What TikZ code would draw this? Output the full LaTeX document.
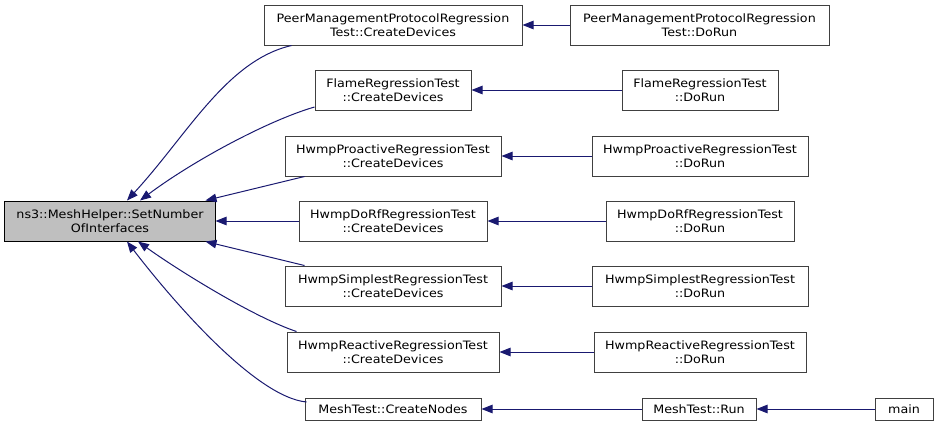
\documentclass[tikz,border=0pt]{standalone}
\usepackage{fontspec}
\setmainfont{DejaVu Sans}[FakeStretch=1.1]
\usetikzlibrary{arrows.meta,calc}
\definecolor{edgeblue}{HTML}{191970}
\definecolor{boxgray}{HTML}{BFBFBF}
\definecolor{boxline}{HTML}{404040}
\tikzset{
  fn/.style={draw=boxline,line width=1bp,fill=white,inner sep=0pt,align=center,
    font=\fontsize{11.6}{14.5}\selectfont},
  mainfn/.style={fn,fill=boxgray,draw=black},
  edge/.style={draw=edgeblue,line width=1bp,{Triangle[length=11bp,width=8.5bp]}-}
}
\begin{document}
\begin{tikzpicture}[x=1bp,y=-1bp]
\useasboundingbox (0,0) rectangle (939,429);
% main node
\node[mainfn,minimum width=210bp,minimum height=40bp] (m) at (110,221) {ns3::MeshHelper::SetNumber\\OfInterfaces};
% column 2
\node[fn,minimum width=258bp,minimum height=40bp] (c1) at (393,25) {PeerManagementProtocolRegression\\Test::CreateDevices};
\node[fn,minimum width=156bp,minimum height=40bp] (c2) at (393,90) {FlameRegressionTest\\::CreateDevices};
\node[fn,minimum width=216bp,minimum height=40bp] (c3) at (393,156) {HwmpProactiveRegressionTest\\::CreateDevices};
\node[fn,minimum width=188bp,minimum height=40bp] (c4) at (393,221) {HwmpDoRfRegressionTest\\::CreateDevices};
\node[fn,minimum width=216bp,minimum height=40bp] (c5) at (393,286) {HwmpSimplestRegressionTest\\::CreateDevices};
\node[fn,minimum width=212bp,minimum height=40bp] (c6) at (393,352) {HwmpReactiveRegressionTest\\::CreateDevices};
\node[fn,minimum width=176bp,minimum height=22bp] (c7) at (393,409) {MeshTest::CreateNodes};
% column 3
\node[fn,minimum width=259bp,minimum height=40bp] (d1) at (699.5,25) {PeerManagementProtocolRegression\\Test::DoRun};
\node[fn,minimum width=156bp,minimum height=40bp] (d2) at (700,90) {FlameRegressionTest\\::DoRun};
\node[fn,minimum width=216bp,minimum height=40bp] (d3) at (700,156) {HwmpProactiveRegressionTest\\::DoRun};
\node[fn,minimum width=188bp,minimum height=40bp] (d4) at (700,221) {HwmpDoRfRegressionTest\\::DoRun};
\node[fn,minimum width=216bp,minimum height=40bp] (d5) at (700,286) {HwmpSimplestRegressionTest\\::DoRun};
\node[fn,minimum width=212bp,minimum height=40bp] (d6) at (700,352) {HwmpReactiveRegressionTest\\::DoRun};
\node[fn,minimum width=114bp,minimum height=22bp] (d7) at (699,409) {MeshTest::Run};
% column 4
\node[fn,minimum width=58bp,minimum height=22bp] (e7) at (904,409) {main};
% edges into main node
\draw[edge] ($(m.north)+(17,0)$) .. controls ($(m.north)+(77,-65)$) and ($(c1.south west)+(-37,15)$) .. ($(c1.south west)+(28,0)$);
\draw[edge] ($(m.north)+(30,0)$) .. controls ($(m.north)+(85,-41)$) and ($(c2.west)+(-45,30)$) .. ($(c2.west)+(0,17)$);
\draw[edge] ($(m.north east)+(-10,0)$) -- ($(c3.south west)+(20,0)$);
\draw[edge] (m.east) -- (c4.west);
\draw[edge] ($(m.south east)+(-10,0)$) -- ($(c5.north west)+(20,0)$);
\draw[edge] ($(m.south)+(28,0)$) .. controls ($(m.south)+(70,30)$) and ($(c6.north west)+(-32,-14)$) .. ($(c6.north west)+(10,0)$);
\draw[edge] ($(m.south)+(17,0)$) .. controls ($(m.south)+(60,56)$) and ($(c7.west)+(-50,-12)$) .. ($(c7.west)+(2,-7)$);
% straight edges
\draw[edge] (c1.east) -- (d1.west);
\draw[edge] (c2.east) -- (d2.west);
\draw[edge] (c3.east) -- (d3.west);
\draw[edge] (c4.east) -- (d4.west);
\draw[edge] (c5.east) -- (d5.west);
\draw[edge] (c6.east) -- (d6.west);
\draw[edge] (c7.east) -- (d7.west);
\draw[edge] (d7.east) -- (e7.west);
\end{tikzpicture}
\end{document}
